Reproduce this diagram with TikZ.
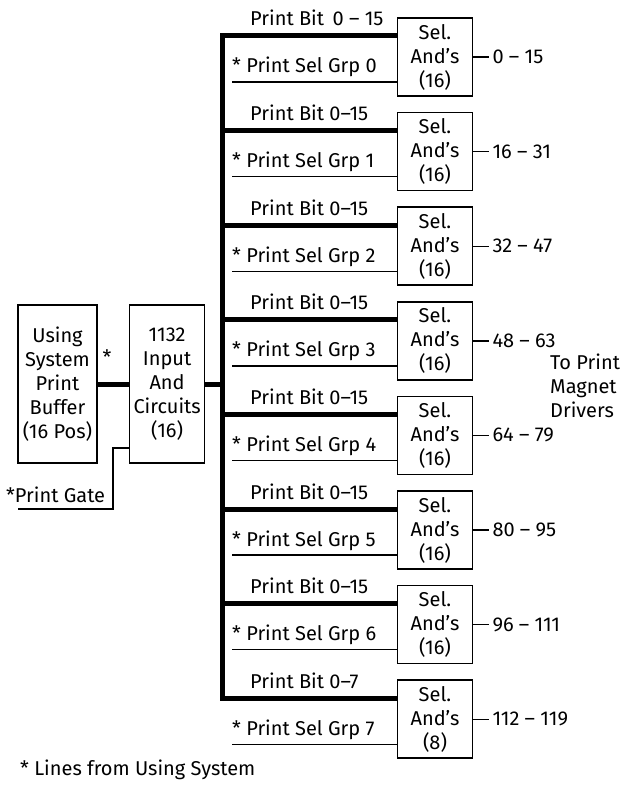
\documentclass[tikz,border=0pt]{standalone}
\usepackage{fontspec}
\setmainfont{Fira Sans}
\usetikzlibrary{positioning}

\begin{document}
\begin{tikzpicture}[x=1pt,y=-1pt,every node/.style={font=\fontsize{20}{24}\selectfont,align=center},
      blk/.style={draw,line width=1.6pt,inner sep=0pt},
      sel/.style={blk,minimum width=75pt,minimum height=78pt},
      sig/.style={line width=1.4pt},
      bus/.style={line width=5pt,line join=miter},
      lbl/.style={anchor=base west,inner sep=0pt},
      outl/.style={inner sep=3pt}]
    \useasboundingbox (0,0) rectangle (619,786);
    \node[blk,minimum width=79pt,minimum height=158pt] (buf) at (57.5,384) {Using\\System\\Print\\Buffer\\(16 Pos)};
    \node[blk,minimum width=75pt,minimum height=158pt,right=31pt of buf] (inp) {1132\\Input\\And\\Circuits\\(16)};
    \node (star) at (107,357) {*};
    \draw[bus] (buf) -- (inp);
    % print gate
    \node[lbl] (pg) at (6,502) {*Print Gate};
    \coordinate (pa) at (18,509); \coordinate (pk) at (113,509);
    \draw[sig] (pa) -- (pk) |- ([yshift=-64pt]inp.west);
    % select ands
    \node[sel] (g0) at (435,57) {Sel.\\And's\\(16)};
    \node[sel,below=15pt of g0] (g1) {Sel.\\And's\\(16)};
    \node[sel,below=15pt of g1] (g2) {Sel.\\And's\\(16)};
    \node[sel,below=15pt of g2] (g3) {Sel.\\And's\\(16)};
    \node[sel,below=15pt of g3] (g4) {Sel.\\And's\\(16)};
    \node[sel,below=15pt of g4] (g5) {Sel.\\And's\\(16)};
    \node[sel,below=15pt of g5] (g6) {Sel.\\And's\\(16)};
    \node[sel,below=15pt of g6] (g7) {Sel.\\And's\\(8)};
    \coordinate (bt) at (222,0); \coordinate (sl) at (232,0); \coordinate (pb) at (250,0);
    % print bit bus
    \draw[bus] ([yshift=21pt]g0.west) -- ([yshift=21pt]g0.west -| bt) -- ([yshift=21pt]g7.west -| bt) -- ([yshift=21pt]g7.west);
    \draw[bus] (inp.east) -- (inp.east -| bt);
    \draw[bus] ([yshift=21pt]g1.west -| bt) -- ([yshift=21pt]g1.west); \draw[bus] ([yshift=21pt]g2.west -| bt) -- ([yshift=21pt]g2.west);
    \draw[bus] ([yshift=21pt]g3.west -| bt) -- ([yshift=21pt]g3.west); \draw[bus] ([yshift=21pt]g4.west -| bt) -- ([yshift=21pt]g4.west);
    \draw[bus] ([yshift=21pt]g5.west -| bt) -- ([yshift=21pt]g5.west); \draw[bus] ([yshift=21pt]g6.west -| bt) -- ([yshift=21pt]g6.west);
    \node[lbl] (b0) at ([yshift=31pt]g0.west -| pb) {Print Bit\, 0 -- 15};
    \node[lbl] (b1) at ([yshift=31pt]g1.west -| pb) {Print Bit 0--15};
    \node[lbl] (b2) at ([yshift=31pt]g2.west -| pb) {Print Bit 0--15};
    \node[lbl] (b3) at ([yshift=31pt]g3.west -| pb) {Print Bit 0--15};
    \node[lbl] (b4) at ([yshift=31pt]g4.west -| pb) {Print Bit 0--15};
    \node[lbl] (b5) at ([yshift=31pt]g5.west -| pb) {Print Bit 0--15};
    \node[lbl] (b6) at ([yshift=31pt]g6.west -| pb) {Print Bit 0--15};
    \node[lbl] (b7) at ([yshift=31pt]g7.west -| pb) {Print Bit 0--7};
    % group select lines
    \draw[sig] ([yshift=-25pt]g0.west -| sl) -- ([yshift=-25pt]g0.west); \draw[sig] ([yshift=-25pt]g1.west -| sl) -- ([yshift=-25pt]g1.west);
    \draw[sig] ([yshift=-25pt]g2.west -| sl) -- ([yshift=-25pt]g2.west); \draw[sig] ([yshift=-25pt]g3.west -| sl) -- ([yshift=-25pt]g3.west);
    \draw[sig] ([yshift=-25pt]g4.west -| sl) -- ([yshift=-25pt]g4.west); \draw[sig] ([yshift=-25pt]g5.west -| sl) -- ([yshift=-25pt]g5.west);
    \draw[sig] ([yshift=-25pt]g6.west -| sl) -- ([yshift=-25pt]g6.west); \draw[sig] ([yshift=-25pt]g7.west -| sl) -- ([yshift=-25pt]g7.west);
    \node[lbl] (s0) at ([yshift=-16pt]g0.west -| sl) {* Print Sel Grp 0};
    \node[lbl] (s1) at ([yshift=-16pt]g1.west -| sl) {* Print Sel Grp 1};
    \node[lbl] (s2) at ([yshift=-16pt]g2.west -| sl) {* Print Sel Grp 2};
    \node[lbl] (s3) at ([yshift=-16pt]g3.west -| sl) {* Print Sel Grp 3};
    \node[lbl] (s4) at ([yshift=-16pt]g4.west -| sl) {* Print Sel Grp 4};
    \node[lbl] (s5) at ([yshift=-16pt]g5.west -| sl) {* Print Sel Grp 5};
    \node[lbl] (s6) at ([yshift=-16pt]g6.west -| sl) {* Print Sel Grp 6};
    \node[lbl] (s7) at ([yshift=-16pt]g7.west -| sl) {* Print Sel Grp 7};
    % outputs
    \node[outl,right=16pt of g0] (o0) {0 -- 15};   \draw[sig] (g0) -- (o0);
    \node[outl,right=16pt of g1] (o1) {16 -- 31};  \draw[sig] (g1) -- (o1);
    \node[outl,right=16pt of g2] (o2) {32 -- 47};  \draw[sig] (g2) -- (o2);
    \node[outl,right=16pt of g3] (o3) {48 -- 63};  \draw[sig] (g3) -- (o3);
    \node[outl,right=16pt of g4] (o4) {64 -- 79};  \draw[sig] (g4) -- (o4);
    \node[outl,right=16pt of g5] (o5) {80 -- 95};  \draw[sig] (g5) -- (o5);
    \node[outl,right=16pt of g6] (o6) {96 -- 111}; \draw[sig] (g6) -- (o6);
    \node[outl,right=16pt of g7] (o7) {112 -- 119}; \draw[sig] (g7) -- (o7);
    \node[align=left,anchor=west,inner sep=0pt] (drv) at (550,386) {To Print\\Magnet\\Drivers};
    \node[anchor=west,inner sep=0pt] (note) at (20,770) {* Lines from Using System};
  \end{tikzpicture}
\end{document}
